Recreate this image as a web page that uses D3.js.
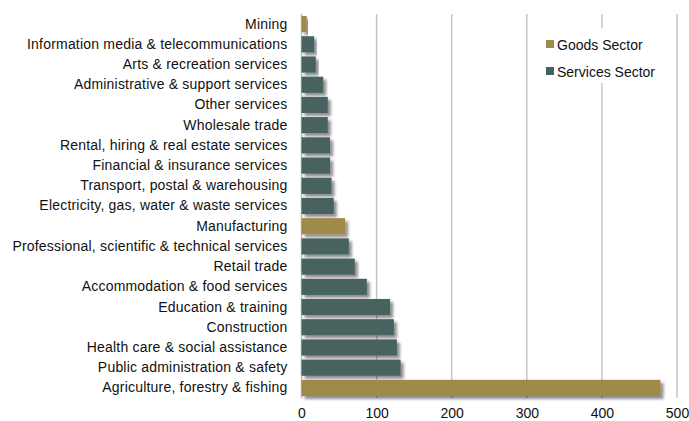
<!DOCTYPE html>
<html>
<head>
<meta charset="utf-8">
<script src="https://cdn.jsdelivr.net/npm/d3@7"></script>
<style>
  html, body { margin: 0; padding: 0; background: #fff; }
  svg { display: block; font-family: "Liberation Sans", Arial, Helvetica, sans-serif; }
</style>
</head>
<body>
<svg id="chart" width="689" height="421"></svg>
<script>
// Industries, top to bottom
const categories = [
  "Mining",
  "Information media & telecommunications",
  "Arts & recreation services",
  "Administrative & support services",
  "Other services",
  "Wholesale trade",
  "Rental, hiring & real estate services",
  "Financial & insurance services",
  "Transport, postal & warehousing",
  "Electricity, gas, water & waste services",
  "Manufacturing",
  "Professional, scientific & technical services",
  "Retail trade",
  "Accommodation & food services",
  "Education & training",
  "Construction",
  "Health care & social assistance",
  "Public administration & safety",
  "Agriculture, forestry & fishing"
];
const values = [7, 17, 19, 29, 35, 35, 38, 38, 40, 43, 58, 63, 71, 87, 118, 123, 127, 132, 478];
const sectors = ["Goods", "Services", "Services", "Services", "Services", "Services", "Services",
  "Services", "Services", "Services", "Goods", "Services", "Services", "Services", "Services",
  "Services", "Services", "Services", "Goods"];
const seriesNames = ["Goods Sector", "Services Sector"];
const seriesKeys = ["Goods", "Services"];
const seriesColors = ["#a08a4b", "#46625e"];
const xTicks = [0, 100, 200, 300, 400, 500];

const rows = categories.map((c, i) => ({ name: c, value: values[i], sector: sectors[i] }));

const svg = d3.select("#chart");
const margin = { left: 301.5, right: 12, top: 14, bottom: 23 };
const W = 689, H = 421;
const FONT = 14;

const x = d3.scaleLinear().domain([0, 500]).range([margin.left, margin.left + 375.5]);
const y = d3.scaleBand().domain(categories).range([margin.top, H - margin.bottom]).paddingInner(0.2).paddingOuter(0.1);
const color = d3.scaleOrdinal().domain(seriesKeys).range(seriesColors);

// Drop shadow for bars
const defs = svg.append("defs");
const f = defs.append("filter").attr("id", "shadow").attr("x", "-10%").attr("y", "-30%").attr("width", "130%").attr("height", "180%");
f.append("feGaussianBlur").attr("in", "SourceAlpha").attr("stdDeviation", 1.6).attr("result", "b");
f.append("feOffset").attr("in", "b").attr("dx", 2.5).attr("dy", 2.5).attr("result", "o");
f.append("feComponentTransfer").attr("in", "o").attr("result", "s")
  .append("feFuncA").attr("type", "linear").attr("slope", 0.45);
const m = f.append("feMerge");
m.append("feMergeNode").attr("in", "s");
m.append("feMergeNode").attr("in", "SourceGraphic");

// Vertical gridlines
svg.append("g").selectAll("line").data(xTicks.filter(d => d > 0)).join("line")
  .attr("x1", d => x(d)).attr("x2", d => x(d))
  .attr("y1", margin.top).attr("y2", H - margin.bottom)
  .attr("stroke", "#c4c4c4").attr("stroke-width", 1.5);

// Category axis line
svg.append("line")
  .attr("x1", x(0)).attr("x2", x(0))
  .attr("y1", margin.top).attr("y2", H - margin.bottom)
  .attr("stroke", "#bdbdbd").attr("stroke-width", 1.5);

// Bars
svg.append("g").selectAll("rect").data(rows).join("rect")
  .attr("x", x(0))
  .attr("y", d => y(d.name))
  .attr("width", d => x(d.value) - x(0))
  .attr("height", y.bandwidth())
  .attr("fill", d => color(d.sector))
  .attr("filter", "url(#shadow)");

// Category labels
const yAxis = d3.axisLeft(y).tickSize(0).tickPadding(14);
const gy = svg.append("g").attr("transform", `translate(${x(0)},0)`).call(yAxis);
gy.select(".domain").remove();
gy.selectAll("text").attr("font-size", FONT).attr("fill", "#111")
  .attr("letter-spacing", 0.2)
  .style("font-family", '"Liberation Sans", Arial, sans-serif');

// Value axis labels
const xAxis = d3.axisBottom(x).tickValues(xTicks).tickSize(0).tickPadding(10);
const gx = svg.append("g").attr("transform", `translate(0,${H - margin.bottom})`).call(xAxis);
gx.select(".domain").remove();
gx.selectAll("text").attr("font-size", FONT).attr("fill", "#111")
  .style("font-family", '"Liberation Sans", Arial, sans-serif');

// Legend
const lg = svg.append("g");
lg.append("rect").attr("x", 536).attr("y", 28).attr("width", 134).attr("height", 55).attr("fill", "#fff");
seriesNames.forEach((n, i) => {
  const gy0 = 45 + i * 27;
  lg.append("rect").attr("x", 546).attr("y", gy0 - 5).attr("width", 8).attr("height", 8)
    .attr("fill", seriesColors[i]);
  lg.append("text").attr("x", 557).attr("y", gy0).attr("dy", "0.35em")
    .attr("font-size", FONT).attr("fill", "#111").text(n);
});
</script>
</body>
</html>
